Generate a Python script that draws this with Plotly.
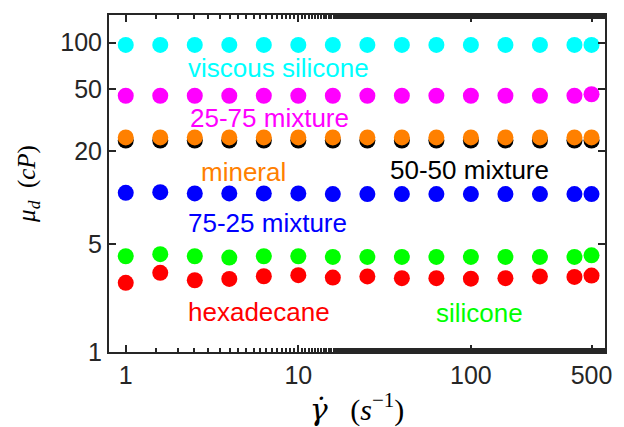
import plotly.graph_objects as go

shear_rate = [1, 1.585, 2.512, 3.981, 6.310, 10, 15.85, 25.12, 39.81, 63.10, 100, 158.5, 251.2, 398.1, 500]

visc_viscous_silicone = [96.7, 96.7, 96.7, 96.7, 96.7, 96.7, 96.7, 96.7, 96.7, 96.7, 96.7, 96.7, 96.7, 96.7, 96.7]
visc_25_75 = [45.4, 45.4, 45.4, 45.4, 45.4, 45.4, 45.4, 45.4, 45.4, 45.4, 45.4, 45.4, 45.4, 45.4, 46.4]
visc_50_50 = [23.3, 23.3, 23.3, 23.3, 23.3, 23.3, 23.3, 23.3, 23.3, 23.3, 23.3, 23.3, 23.3, 23.3, 23.3]
visc_mineral = [24.4, 24.4, 24.4, 24.4, 24.4, 24.4, 24.4, 24.4, 24.4, 24.4, 24.4, 24.4, 24.4, 24.4, 24.4]
visc_75_25 = [10.7, 10.8, 10.6, 10.6, 10.6, 10.6, 10.5, 10.5, 10.5, 10.5, 10.5, 10.5, 10.5, 10.5, 10.5]
visc_silicone = [4.16, 4.29, 4.16, 4.08, 4.16, 4.16, 4.12, 4.12, 4.12, 4.12, 4.12, 4.12, 4.12, 4.12, 4.22]
visc_hexadecane = [2.80, 3.25, 2.91, 2.97, 3.09, 3.14, 3.03, 3.08, 3.00, 3.00, 2.98, 3.00, 3.08, 3.06, 3.12]

series = [
    ("50-50 mixture", visc_50_50, "#000000"),
    ("mineral", visc_mineral, "#FF8000"),
    ("viscous silicone", visc_viscous_silicone, "#00FFFF"),
    ("25-75 mixture", visc_25_75, "#FF00FF"),
    ("75-25 mixture", visc_75_25, "#0000FF"),
    ("silicone", visc_silicone, "#00FF00"),
    ("hexadecane", visc_hexadecane, "#FF0000"),
]

# label text, log10 x, log10 y, colour
labels = [
    ("viscous silicone", 0.886, 1.836, "#00FFFF"),
    ("25-75 mixture", 0.834, 1.512, "#FF00FF"),
    ("mineral", 0.68, 1.163, "#FF8000"),
    ("50-50 mixture", 1.994, 1.176, "#000000"),
    ("75-25 mixture", 0.823, 0.833, "#0000FF"),
    ("hexadecane", 0.771, 0.257, "#FF0000"),
    ("silicone", 2.051, 0.250, "#00FF00"),
]

x_ticks = [1, 10, 100, 500]
y_ticks = [1, 5, 20, 50, 100]

fig = go.Figure()
for name, vals, col in series:
    fig.add_trace(go.Scatter(
        x=shear_rate, y=vals, mode="markers", name=name,
        marker=dict(size=16, color=col, line=dict(width=0)),
        showlegend=False, hoverinfo="skip"))

for text, lx, ly, col in labels:
    fig.add_annotation(x=lx, y=ly, xref="x", yref="y", text=text, showarrow=False,
                       font=dict(family="Liberation Sans, Arial", size=26, color=col),
                       xanchor="center", yanchor="middle")

axis_common = dict(
    showline=True, linecolor="#262626", linewidth=2, mirror="allticks",
    ticks="inside", tickcolor="#262626", tickwidth=1.5, ticklen=7,
    showgrid=False, zeroline=False,
    tickfont=dict(family="Liberation Sans, Arial", size=25, color="#262626"),
)

fig.update_xaxes(type="log", range=[-0.097, 2.777], tickvals=x_ticks,
                 ticktext=[str(v) for v in x_ticks],
                 minor=dict(ticks="inside", ticklen=4, tickcolor="#262626", tickwidth=1.5, showgrid=False),
                 title=dict(text="<span style=\"font-family:'DejaVu Serif'\"><i>γ̇</i></span>   (<i>s</i><sup>−1</sup>)",
                            font=dict(family="Liberation Serif, Times New Roman", size=30, color="#000000"),
                            standoff=5),
                 **axis_common)
fig.update_yaxes(type="log", range=[0, 2.179], tickvals=y_ticks,
                 ticktext=[str(v) for v in y_ticks],
                 title=dict(text="<i>μ<sub>d</sub></i>  (<i>cP</i>)",
                            font=dict(family="Liberation Serif, Times New Roman", size=25, color="#000000"),
                            standoff=18),
                 **axis_common)

fig.update_layout(
    width=624, height=427,
    margin=dict(l=109, r=12, t=15, b=75),
    paper_bgcolor="white", plot_bgcolor="white",
)

fig.write_html("out.html")
